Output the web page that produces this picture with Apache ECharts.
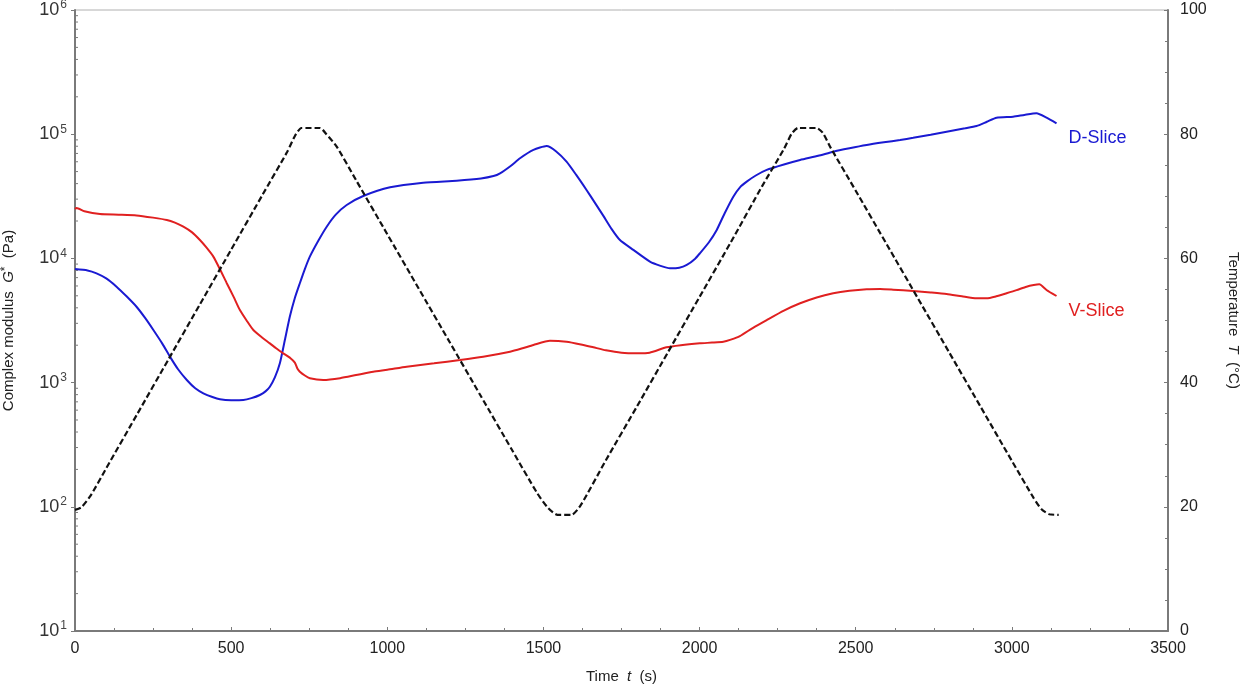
<!DOCTYPE html>
<html>
<head>
<meta charset="utf-8">
<script src="https://cdn.jsdelivr.net/npm/echarts@6/dist/echarts.min.js"></script>
<style>html,body{margin:0;padding:0;background:#fff}#c{width:1243px;height:692px}</style>
</head>
<body>
<div id="c"></div>
<script>
// Time (s), complex modulus (Pa) for D-Slice
const dSlice = [
  [0,8200],[40,8000],[69,7580],[100,6900],[133,5920],[165,4950],[197,4080],[225,3300],[251,2650],[280,2050],[304,1618],[330,1280],[358,1050],[385,900],[411,820],[440,765],[464,734],[500,722],[539,725],[565,750],[592,795],[610,850],[624,927],[640,1100],[656,1430],[672,2200],[688,3400],[704,4800],[720,6310],[736,8200],[752,10330],[780,14000],[806,18000],[835,22500],[870,26900],[923,31770],[1009,37330],[1115,40650],[1222,42250],[1300,44000],[1340,46000],[1361,48400],[1395,55500],[1425,63970],[1468,74670],[1510,80400],[1540,73000],[1574,60100],[1605,47000],[1638,35560],[1665,28000],[1692,22000],[1718,17300],[1745,14060],[1788,11700],[1841,9420],[1875,8700],[1905,8320],[1935,8400],[1959,8850],[1985,9900],[2001,10990],[2030,13500],[2055,16950],[2080,23000],[2108,31400],[2130,37500],[2151,41500],[2180,46500],[2215,51550],[2270,57000],[2322,61960],[2380,67000],[2428,72280],[2480,77000],[2535,81800],[2590,86000],[2642,89800],[2684,93500],[2740,99000],[2791,104800],[2850,111500],[2887,116400],[2920,126000],[2951,135800],[3004,138400],[3040,143000],[3079,147300],[3111,135800],[3143,122400]
];
// Time (s), complex modulus (Pa) for V-Slice
const vSlice = [
  [0,25000],[5,25470],[30,24000],[80,22750],[140,22500],[197,22200],[250,21300],[294,20400],[320,19400],[347,18000],[375,16200],[400,14060],[420,12300],[443,10330],[465,8100],[486,6310],[508,4900],[528,3840],[550,3150],[571,2650],[600,2300],[624,2070],[645,1880],[667,1720],[690,1570],[704,1447],[712,1300],[720,1225],[736,1140],[752,1084],[795,1050],[849,1085],[900,1150],[955,1225],[1000,1270],[1062,1343],[1150,1430],[1233,1521],[1307,1618],[1393,1775],[1430,1880],[1468,2010],[1521,2175],[1574,2135],[1620,2030],[1660,1923],[1700,1820],[1750,1740],[1800,1722],[1840,1740],[1894,1923],[1940,2000],[2001,2070],[2040,2100],[2076,2135],[2100,2220],[2129,2370],[2170,2750],[2215,3190],[2270,3800],[2322,4350],[2375,4850],[2428,5235],[2480,5480],[2535,5640],[2578,5670],[2620,5600],[2684,5470],[2740,5320],[2791,5170],[2840,4950],[2887,4770],[2919,4770],[2950,4950],[2983,5240],[3015,5550],[3047,5920],[3070,6100],[3088,6180],[3111,5570],[3143,4980]
];
// Time (s), temperature (°C)
const temperature = [
  [0,19.5],[20,19.9],[50,21.8],[100,26.2],[200,35],[300,43.8],[400,52.6],[500,61.4],[600,70.2],[680,77.2],[705,79.8],[725,81],[785,81],[805,80],[838,78],[900,72.6],[1000,63.9],[1100,55.2],[1200,46.5],[1300,37.8],[1400,29.1],[1480,22.2],[1515,19.8],[1545,18.7],[1590,18.7],[1620,20.3],[1700,27.5],[1800,36.2],[1900,45.0],[2000,53.8],[2100,62.6],[2200,71.6],[2270,77.6],[2295,80.1],[2315,81],[2375,81],[2395,80.2],[2420,77.8],[2500,70.9],[2600,62.2],[2700,53.5],[2800,44.8],[2900,36.1],[3000,27.4],[3070,21.4],[3095,19.6],[3120,18.8],[3150,18.7]
];
const xTicks = [0,500,1000,1500,2000,2500,3000,3500];
const logMinorTicks = [];
for (let k = 1; k <= 5; k++) for (let m = 2; m <= 9; m++) logMinorTicks.push([0, m * Math.pow(10, k)]);

const chart = echarts.init(document.getElementById('c'), null, {renderer: 'canvas'});
const axisGrey = '#7a7a7a';
const font = 'Liberation Sans, Arial, sans-serif';
chart.setOption({
  animation: false,
  grid: {left: 75, right: 75, top: 10, bottom: 61, show: true, borderColor: '#b0b0b0', borderWidth: 1, containLabel: false, outerBoundsMode: 'none'},
  xAxis: {
    type: 'value', min: 0, max: 3500, interval: 500,
    name: 'Time  {i|t}  (s)', nameLocation: 'middle', nameGap: 38,
    nameTextStyle: {fontFamily: font, fontSize: 15, color: '#222', rich: {i: {fontStyle: 'italic', fontFamily: font, fontSize: 15, color: '#222'}}},
    axisLine: {lineStyle: {color: axisGrey, width: 2}},
    axisTick: {inside: true, length: 4, lineStyle: {color: axisGrey}},
    minorTick: {show: true, splitNumber: 4, length: 3, lineStyle: {color: axisGrey}},
    splitLine: {show: false},
    axisLabel: {fontFamily: font, fontSize: 16, color: '#222', margin: 10, formatter: v => xTicks.includes(v) ? String(v) : ''}
  },
  yAxis: [{
    type: 'log', logBase: 10, min: 10, max: 1000000,
    name: 'Complex modulus  {i|G}{s|*}  (Pa)', nameLocation: 'middle', nameGap: 57, nameRotate: 90,
    nameTextStyle: {fontFamily: font, fontSize: 15, color: '#222', rich: {i: {fontStyle: 'italic', fontFamily: font, fontSize: 15, color: '#222'}, s: {fontFamily: font, fontSize: 12, color: '#222', verticalAlign: 'top', padding: [0, 0, 6, 0]}}},
    axisLine: {show: true, lineStyle: {color: axisGrey, width: 2}},
    axisTick: {show: true, inside: false, length: 4, lineStyle: {color: axisGrey}},
    splitLine: {show: false},
    axisLabel: {
      fontFamily: font, fontSize: 18, color: '#333', margin: 8,
      formatter: v => '10{s|' + Math.round(Math.log10(v)) + '}',
      rich: {s: {fontFamily: font, fontSize: 12, color: '#444', padding: [0, 0, 10, 1]}}
    }
  }, {
    type: 'value', min: 0, max: 100, interval: 20, position: 'right',
    name: 'Temperature  {i|T}  (°C)', nameLocation: 'middle', nameGap: 58, nameRotate: -90,
    nameTextStyle: {fontFamily: font, fontSize: 15, color: '#222', rich: {i: {fontStyle: 'italic', fontFamily: font, fontSize: 15, color: '#222'}}},
    axisLine: {show: true, lineStyle: {color: axisGrey, width: 2}},
    axisTick: {show: true, inside: true, length: 4, lineStyle: {color: axisGrey}},
    minorTick: {show: true, splitNumber: 4, length: 3, lineStyle: {color: axisGrey}},
    splitLine: {show: false},
    axisLabel: {fontFamily: font, fontSize: 16, color: '#222', margin: 12}
  }],
  series: [{
    name: 'D-Slice', type: 'line', data: dSlice, yAxisIndex: 0, showSymbol: false, smooth: 0.2,
    lineStyle: {color: '#1a1ad2', width: 2}, itemStyle: {color: '#1a1ad2'},
    endLabel: {show: true, formatter: 'D-Slice', color: '#1a1ad2', fontFamily: font, fontSize: 18, offset: [4, 15]}
  }, {
    name: 'V-Slice', type: 'line', data: vSlice, yAxisIndex: 0, showSymbol: false, smooth: 0.2,
    lineStyle: {color: '#e02020', width: 2}, itemStyle: {color: '#e02020'},
    endLabel: {show: true, formatter: 'V-Slice', color: '#e02020', fontFamily: font, fontSize: 18, offset: [4, 15]}
  }, {
    name: 'Temperature', type: 'line', data: temperature, yAxisIndex: 1, showSymbol: false, smooth: 0.2,
    lineStyle: {color: '#111', width: 2.2, type: [6, 3]}, itemStyle: {color: '#111'}
  }, {
    name: 'logMinor', type: 'custom', yAxisIndex: 0, data: logMinorTicks, silent: true, clip: false,
    renderItem: (params, api) => {
      const p = api.coord([api.value(0), api.value(1)]);
      return {type: 'line', shape: {x1: p[0], y1: p[1], x2: p[0] + 3, y2: p[1]}, style: {stroke: axisGrey, lineWidth: 1}};
    }
  }]
});
</script>
</body>
</html>
